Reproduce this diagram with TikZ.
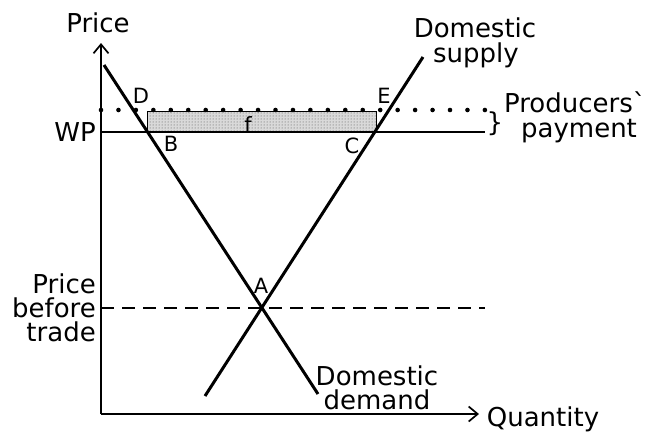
\documentclass[tikz,border=0pt]{standalone}
\usepackage{fontspec}
\setmainfont{DejaVu Sans}[Ligatures=TeXOff]
\usetikzlibrary{arrows.meta,patterns}
\begin{document}
\begin{tikzpicture}[x=1pt,y=-1pt,
  curve/.style={line width=3pt},
  thin/.style={line width=1.7pt},
  lbl/.style={font=\fontsize{21}{21}\selectfont, inner sep=0pt, anchor=base},
  big/.style={font=\fontsize{26}{26}\selectfont, inner sep=0pt, anchor=base},
  ax/.style={line width=1.7pt,-{Straight Barb[length=9pt,width=15pt,line width=1.7pt]}}]
\useasboundingbox (0,0) rectangle (653,440);
% coordinates
\coordinate (O) at (101,414);
\coordinate (Ytop) at (101,43);
\coordinate (Xend) at (479,414);
\coordinate (WPl) at (101,132);
\coordinate (WPr) at (485,132);
\coordinate (DOl) at (101,110);
\coordinate (DOr) at (485,110);
\coordinate (PBl) at (101,308);
\coordinate (PBr) at (485,308);
\coordinate (Dtop) at (104,65);
\coordinate (Dbot) at (318,394);
\coordinate (Sbot) at (205,396);
\coordinate (Stop) at (423,57);
\coordinate (R1) at (147,111);
\coordinate (R2) at (376,131);
% shaded area
\fill[gray!30] (R1) rectangle (R2);
\fill[pattern=dots, pattern color=black!70] (R1) rectangle (R2);
\draw[line width=0.9pt] (R1) rectangle (R2);
% axes
\draw[ax] (O) -- (Ytop);
\draw[ax] (O) -- (Xend);
% lines
\draw[thin] (WPl) -- (WPr);
\draw[thin, dash pattern=on 13pt off 8pt] (PBl) -- (PBr);
\draw[line width=4.6pt, line cap=round, dash pattern=on 0pt off 17.45pt] (DOl) -- (DOr);
\draw[curve] (Dtop) -- (Dbot);
\draw[curve] (Sbot) -- (Stop);
% labels
\node[big] (price) at (98,32) {Price};
\node[big] (qty) at (543,426) {Quantity};
\node[big] (wp) at (75,141) {WP};
\node[big, anchor=base east] (pbt1) at (96,293) {Price};
\node[big, anchor=base east] (pbt2) at (96,317) {before};
\node[big, anchor=base east] (pbt3) at (96,341) {trade};
\node[big] (dsup1) at (475,37) {Domestic};
\node[big] (dsup2) at (476,62) {supply};
\node[big] (ddem1) at (377,385) {Domestic};
\node[big] (ddem2) at (377,409) {demand};
\node[big] (prod1) at (575,112) {Producers\char96};
\node[big] (prod2) at (579,137) {payment};
\node[big] (brace) at (495,131) {\}};
\node[lbl] (D) at (141,103) {D};
\node[lbl] (E) at (384,103) {E};
\node[lbl] (B) at (171,151) {B};
\node[lbl] (C) at (352,153) {C};
\node[lbl] (A) at (261,293) {A};
\node[lbl] (f) at (248,132) {f};
\end{tikzpicture}
\end{document}
